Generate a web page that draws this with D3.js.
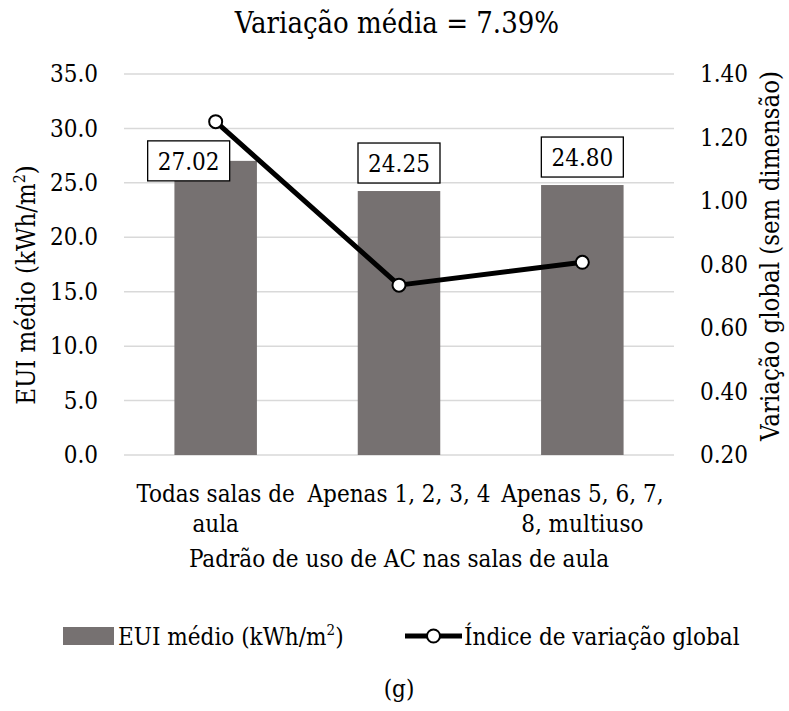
<!DOCTYPE html>
<html>
<head>
<meta charset="utf-8">
<script src="https://cdn.jsdelivr.net/npm/d3@7"></script>
<style>
  html, body { margin: 0; padding: 0; background: #fff; }
  svg text { font-family: "DejaVu Serif Condensed", "DejaVu Serif", serif; font-stretch: condensed; fill: #000; }
</style>
</head>
<body>
<svg id="chart" width="789" height="711"></svg>
<script>
// Categories (wrapped into lines) and series
const categories = [
  ["Todas salas de", "aula"],
  ["Apenas 1, 2, 3, 4"],
  ["Apenas 5, 6, 7,", "8, multiuso"]
];
const euiValues = [27.02, 24.25, 24.80];
const indexValues = [1.25, 0.735, 0.807];
const leftTicks = [0, 5, 10, 15, 20, 25, 30, 35];
const rightTicks = [0.2, 0.4, 0.6, 0.8, 1.0, 1.2, 1.4];

const titleText = "Variação média = 7.39%";
const rightTitle = "Variação global (sem dimensão)";
const xTitle = "Padrão de uso de AC nas salas de aula";
const legendLine = "Índice de variação global";
const caption = "(g)";

const FS = 24;
const svg = d3.select("#chart");
const margin = { left: 124, right: 115, top: 74, bottom: 256 };
const W = 789, H = 711;
const plotW = W - margin.left - margin.right;
const plotH = H - margin.top - margin.bottom;

const g = svg.append("g").attr("transform", `translate(${margin.left},${margin.top})`);

const x = d3.scaleBand().domain(d3.range(categories.length)).range([0, plotW]).paddingInner(0.55).paddingOuter(0.275);
const xc = d3.scaleBand().domain(d3.range(categories.length)).range([0, plotW]);
const yL = d3.scaleLinear().domain([0, 35]).range([plotH, 0]);
const yR = d3.scaleLinear().domain([0.2, 1.4]).range([plotH, 0]);

// Gridlines
g.append("g").selectAll("line").data(leftTicks).join("line")
  .attr("x1", 0).attr("x2", plotW)
  .attr("y1", d => yL(d)).attr("y2", d => yL(d))
  .attr("stroke", "#d9d9d9").attr("stroke-width", 1.5);

// Left axis
const axL = d3.axisLeft(yL).tickValues(leftTicks).tickFormat(d3.format(".1f")).tickSize(0).tickPadding(26);
g.append("g").call(axL).call(s => s.select(".domain").remove())
  .selectAll("text").attr("font-size", FS).attr("font-family", null);

// Right axis
const axR = d3.axisRight(yR).tickValues(rightTicks).tickFormat(d3.format(".2f")).tickSize(0).tickPadding(26);
g.append("g").attr("transform", `translate(${plotW},0)`).call(axR).call(s => s.select(".domain").remove())
  .selectAll("text").attr("font-size", FS).attr("font-family", null);

// Bars
g.append("g").selectAll("rect").data(euiValues).join("rect")
  .attr("x", (d, i) => x(i)).attr("width", x.bandwidth())
  .attr("y", d => yL(d)).attr("height", d => plotH - yL(d))
  .attr("fill", "#767171");

// Line series
const line = d3.line().x((d, i) => xc(i) + xc.bandwidth() / 2).y(d => yR(d));
g.append("path").datum(indexValues).attr("d", line)
  .attr("fill", "none").attr("stroke", "#000").attr("stroke-width", 5).attr("stroke-linejoin", "round");
g.append("g").selectAll("circle").data(indexValues).join("circle")
  .attr("cx", (d, i) => xc(i) + xc.bandwidth() / 2).attr("cy", d => yR(d))
  .attr("r", 6.5).attr("fill", "#fff").attr("stroke", "#000").attr("stroke-width", 2);

// Data labels in boxes above bars; the first is moved aside, clear of the line
const labelNudge = [[-27, 28], [0, 0], [0, 0]];
const lab = g.append("g").selectAll("g").data(euiValues).join("g")
  .attr("transform", (d, i) => `translate(${xc(i) + xc.bandwidth() / 2 + labelNudge[i][0]},${yL(d) - 28 + labelNudge[i][1]})`);
lab.append("rect").attr("x", -41).attr("y", -20).attr("width", 82).attr("height", 40)
  .attr("fill", "#fff").attr("stroke", "#000").attr("stroke-width", 1.3);
lab.append("text").attr("text-anchor", "middle").attr("y", 9)
  .attr("font-size", FS).text(d => d3.format(".2f")(d));

// Category labels
const catG = g.append("g").selectAll("text").data(categories).join("text")
  .attr("text-anchor", "middle").attr("font-size", FS)
  .attr("x", (d, i) => xc(i) + xc.bandwidth() / 2)
  .attr("y", plotH + 47);
catG.selectAll("tspan").data(d => d).join("tspan")
  .attr("x", function () { return d3.select(this.parentNode).attr("x"); })
  .attr("dy", (d, j) => j === 0 ? 0 : 30).text(d => d);

// Axis titles
g.append("text").attr("text-anchor", "middle").attr("font-size", FS)
  .attr("x", plotW / 2).attr("y", plotH + 112).text(xTitle);

const lt = svg.append("text").attr("text-anchor", "middle").attr("font-size", 25.5)
  .attr("transform", `translate(35,285) rotate(-90)`);
lt.append("tspan").text("EUI médio (kWh/m");
lt.append("tspan").attr("font-size", 16).attr("dy", -10).text("2");
lt.append("tspan").attr("dy", 10).text(")");

svg.append("text").attr("text-anchor", "middle").attr("font-size", 25.5)
  .attr("transform", `translate(779,256) rotate(-90)`).text(rightTitle);

// Title
svg.append("text").attr("text-anchor", "middle").attr("font-size", 29)
  .attr("x", 397).attr("y", 33).text(titleText);

// Legend
const lg = svg.append("g");
lg.append("rect").attr("x", 63).attr("y", 627).attr("width", 51).attr("height", 18).attr("fill", "#767171");
const lb = lg.append("text").attr("x", 118).attr("y", 645).attr("font-size", FS);
lb.append("tspan").text("EUI médio (kWh/m");
lb.append("tspan").attr("font-size", 15).attr("dy", -10).text("2");
lb.append("tspan").attr("dy", 10).text(")");
lg.append("line").attr("x1", 405).attr("x2", 462).attr("y1", 636).attr("y2", 636)
  .attr("stroke", "#000").attr("stroke-width", 5);
lg.append("circle").attr("cx", 433.5).attr("cy", 636).attr("r", 6.5)
  .attr("fill", "#fff").attr("stroke", "#000").attr("stroke-width", 2);
lg.append("text").attr("x", 464).attr("y", 645).attr("font-size", FS).text(legendLine);

// Caption
svg.append("text").attr("text-anchor", "middle").attr("font-size", FS)
  .attr("x", 399).attr("y", 697).text(caption);
</script>
</body>
</html>
